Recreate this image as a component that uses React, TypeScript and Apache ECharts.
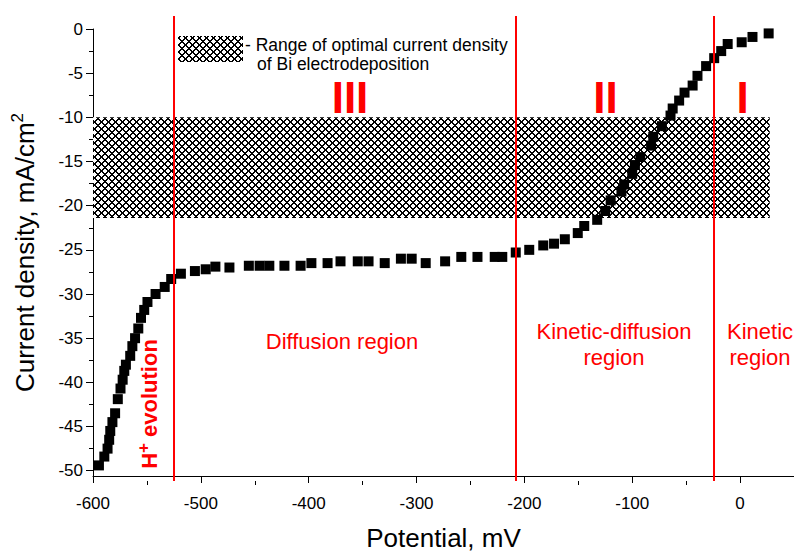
import { useEffect, useRef } from 'react';
import * as echarts from 'echarts';

// ---- data ----
const potential = [
  -594.5, -589.5, -586.5, -585, -584, -582, -579.5, -577, -574.5, -572.5, -571, -569.5,
  -565.5, -563.5, -561, -558, -555.5, -552.5, -549.5, -542, -533.5, -527.5,
  -518.5, -505.5, -495.5, -486.5, -473.5, -455.5, -445.5, -436.5, -422.5, -407.5,
  -397.5, -382.5, -370.5, -354.5, -344.5, -329.5, -314.5, -304.5, -291.5, -273.5,
  -258.5, -243.5, -227.5, -220.5, -208, -195.5,
  -182.5, -172.5, -162.5, -150.5, -144.5, -132.5, -125, -120, -110, -107.5, -100, -97.5,
  -92.5, -82.5, -80.5, -72.5, -64.5, -62.5, -56.5, -51.5, -44, -39.5, -31.5, -24,
  -17.5, -11.5, 1.5, 11.5, 26.5,
];
const currentDensity = [
  -49.4, -48.4, -47.5, -46.5, -45.5, -44.5, -43.5, -41.9, -40.7, -39.7, -38.7, -38.0,
  -37.0, -35.9, -35.0, -33.9, -32.7, -31.8, -30.9, -30.0, -29.2, -28.3,
  -27.7, -27.4, -27.2, -26.9, -27.0, -26.8, -26.8, -26.8, -26.8, -26.8,
  -26.5, -26.5, -26.3, -26.3, -26.3, -26.5, -26.0, -26.0, -26.5, -26.3,
  -25.8, -25.8, -25.8, -25.8, -25.3, -25.0,
  -24.5, -24.3, -23.8, -23.1, -22.3, -21.6, -20.6, -19.4, -18.4, -17.6, -16.4, -15.4,
  -14.5, -13.2, -12.2, -11.0, -9.8, -9.0, -8.1, -7.2, -6.4, -5.3, -4.2, -3.3,
  -2.5, -1.7, -1.5, -0.9, -0.5,
];
const xTickValues = [-600, -500, -400, -300, -200, -100, 0];
const xMinorTickValues = [-550, -450, -350, -250, -150, -50];
const yTickValues = [0, -5, -10, -15, -20, -25, -30, -35, -40, -45, -50];
const yMinorTickValues = [-2.5, -7.5, -12.5, -17.5, -22.5, -27.5, -32.5, -37.5, -42.5, -47.5];
const regionBoundaries = [-524.8, -207.7, -24];
const optimalCurrentRange = [-10, -21.4];
const optimalPotentialRange = [-600, 27.5];
const regionNumerals = ['III', 'II', 'I'];
const legendLines = ['- Range of optimal current density', 'of Bi electrodeposition'];
const xAxisTitle = 'Potential, mV';
const yAxisTitle = 'Current density, mA/cm';

const FONT = '"Liberation Sans", Arial, Helvetica, sans-serif';
const RED = '#ff0000';

function makeHatch(): HTMLCanvasElement {
  const n = 7;
  const c = document.createElement('canvas');
  c.width = n;
  c.height = n;
  const ctx = c.getContext('2d')!;
  const img = ctx.createImageData(n, n);
  for (let y = 0; y < n; y++) {
    for (let x = 0; x < n; x++) {
      const d1 = (((x - y) % n) + n) % n;
      const d2 = (x + y) % n;
      const black = d1 === 0 || d1 === 1 || d2 === n - 1 || d2 === n - 2;
      const i = (y * n + x) * 4;
      img.data[i] = black ? 0 : 255;
      img.data[i + 1] = black ? 0 : 255;
      img.data[i + 2] = black ? 0 : 255;
      img.data[i + 3] = 255;
    }
  }
  ctx.putImageData(img, 0, 0);
  return c;
}

export default function App() {
  const ref = useRef<HTMLDivElement>(null);

  useEffect(() => {
    document.body.style.margin = '0';
    if (!ref.current) return;
    const chart = echarts.init(ref.current, undefined, { renderer: 'svg' });
    const hatch = makeHatch();
    const hatchFill: any = { image: hatch, repeat: 'repeat' };

    const points = potential.map((p, i) => [p, currentDensity[i]]);

    const axisLineStyle = { color: '#000', width: 1 };
    const labelStyle = { color: '#000', fontSize: 17, fontFamily: FONT };

    const option: any = {
      animation: false,
      backgroundColor: '#fff',
      grid: [
        { left: 93, right: -2, top: 29, bottom: 75, containLabel: false },
        { left: 93, right: -2, top: 16, bottom: 75, containLabel: false },
      ],
      xAxis: [
        {
          type: 'value',
          gridIndex: 0,
          min: -600,
          max: 50,
          position: 'bottom',
          axisLine: { show: true, onZero: false, lineStyle: axisLineStyle },
          axisTick: { show: true, length: 7, customValues: xTickValues, lineStyle: axisLineStyle },
          axisLabel: { ...labelStyle, margin: 19, customValues: xTickValues },
          splitLine: { show: false },
          name: xAxisTitle,
          nameLocation: 'middle',
          nameGap: 49,
          nameTextStyle: { color: '#000', fontSize: 26, fontFamily: FONT },
        },
        {
          type: 'value',
          gridIndex: 1,
          min: -600,
          max: 50,
          position: 'bottom',
          axisLine: { show: false, onZero: false },
          axisTick: { show: true, length: 4, customValues: xMinorTickValues, lineStyle: axisLineStyle },
          axisLabel: { show: false },
          splitLine: { show: false },
        },
      ],
      yAxis: [
        {
          type: 'value',
          gridIndex: 0,
          min: -50.6,
          max: 0,
          position: 'left',
          axisLine: { show: true, onZero: false, lineStyle: axisLineStyle },
          axisTick: { show: true, length: 7, customValues: yTickValues, lineStyle: axisLineStyle },
          axisLabel: { ...labelStyle, margin: 10, customValues: yTickValues },
          splitLine: { show: false },
          name: `{a|${yAxisTitle}}{s|2}`,
          nameLocation: 'middle',
          nameRotate: 90,
          nameGap: 52,
          nameTextStyle: {
            rich: {
              a: { fontSize: 26, fontFamily: FONT, color: '#000' },
              s: { fontSize: 17, fontFamily: FONT, color: '#000', padding: [0, 0, 15, 0] },
            },
          },
        },
        {
          type: 'value',
          gridIndex: 1,
          min: -50.6,
          max: 1.45,
          show: false,
          axisLine: { onZero: false },
        },
        {
          type: 'value',
          gridIndex: 0,
          min: -50.6,
          max: 0,
          position: 'left',
          axisLine: { show: false, onZero: false },
          axisTick: { show: true, length: 4, customValues: yMinorTickValues, lineStyle: axisLineStyle },
          axisLabel: { show: false },
          splitLine: { show: false },
        },
      ],
      series: [
        {
          type: 'scatter',
          xAxisIndex: 0,
          yAxisIndex: 0,
          data: [],
          z: 1,
          markArea: {
            silent: true,
            itemStyle: { color: hatchFill, borderWidth: 0, opacity: 1 },
            data: [
              [
                { coord: [optimalPotentialRange[0], optimalCurrentRange[0]] },
                { coord: [optimalPotentialRange[1], optimalCurrentRange[1]] },
              ],
            ],
          },
        },
        {
          type: 'scatter',
          xAxisIndex: 0,
          yAxisIndex: 0,
          symbol: 'rect',
          symbolSize: 10,
          itemStyle: { color: '#000', opacity: 1 },
          data: points,
          z: 3,
        },
        {
          type: 'line',
          xAxisIndex: 1,
          yAxisIndex: 1,
          data: [],
          z: 5,
          markLine: {
            silent: true,
            symbol: ['none', 'none'],
            label: { show: false },
            lineStyle: { color: RED, width: 2, type: 'solid', opacity: 1 },
            data: regionBoundaries.map((v) => ({ xAxis: v })),
          },
        },
      ],
      graphic: [
        {
          type: 'rect',
          shape: { x: 178, y: 36, width: 65, height: 26 },
          style: { fill: hatchFill },
        },
        {
          type: 'text',
          x: 245,
          y: 45,
          style: { text: legendLines[0], fill: '#000', fontSize: 17.5, fontFamily: FONT, verticalAlign: 'middle', align: 'left' },
        },
        {
          type: 'text',
          x: 257,
          y: 64,
          style: { text: legendLines[1], fill: '#000', fontSize: 17.5, fontFamily: FONT, verticalAlign: 'middle', align: 'left' },
        },
        ...regionNumerals.map((t, i) => ({
          type: 'text',
          x: [350, 605.5, 742.5][i],
          y: 97,
          z: 10,
          style: { text: t, fill: RED, fontSize: 44, fontWeight: 'bold', fontFamily: FONT, align: 'center', verticalAlign: 'middle' },
        })),
        {
          type: 'text',
          x: 342,
          y: 341,
          style: { text: 'Diffusion region', fill: RED, fontSize: 22, fontFamily: FONT, align: 'center', verticalAlign: 'middle' },
        },
        {
          type: 'text',
          x: 614,
          y: 344,
          style: { text: 'Kinetic-diffusion\nregion', fill: RED, fontSize: 22, lineHeight: 26, fontFamily: FONT, align: 'center', verticalAlign: 'middle' },
        },
        {
          type: 'text',
          x: 760,
          y: 344,
          style: { text: 'Kinetic\nregion', fill: RED, fontSize: 22, lineHeight: 26, fontFamily: FONT, align: 'center', verticalAlign: 'middle' },
        },
        {
          type: 'text',
          x: 149,
          y: 404,
          rotation: Math.PI / 2,
          style: {
            text: '{b|H}{s|+}{b| evolution}',
            fill: RED,
            fontFamily: FONT,
            fontWeight: 'bold',
            fontSize: 22,
            align: 'center',
            verticalAlign: 'middle',
            rich: {
              b: { fontSize: 22, fontWeight: 'bold', fontFamily: FONT, fill: RED },
              s: { fontSize: 17, fontWeight: 'bold', fontFamily: FONT, fill: RED, padding: [0, 0, 12, 0] },
            },
          },
        },
      ],
    };

    chart.setOption(option);
    return () => {
      chart.dispose();
    };
  }, []);

  return <div ref={ref} style={{ width: 794, height: 556 }} />;
}
